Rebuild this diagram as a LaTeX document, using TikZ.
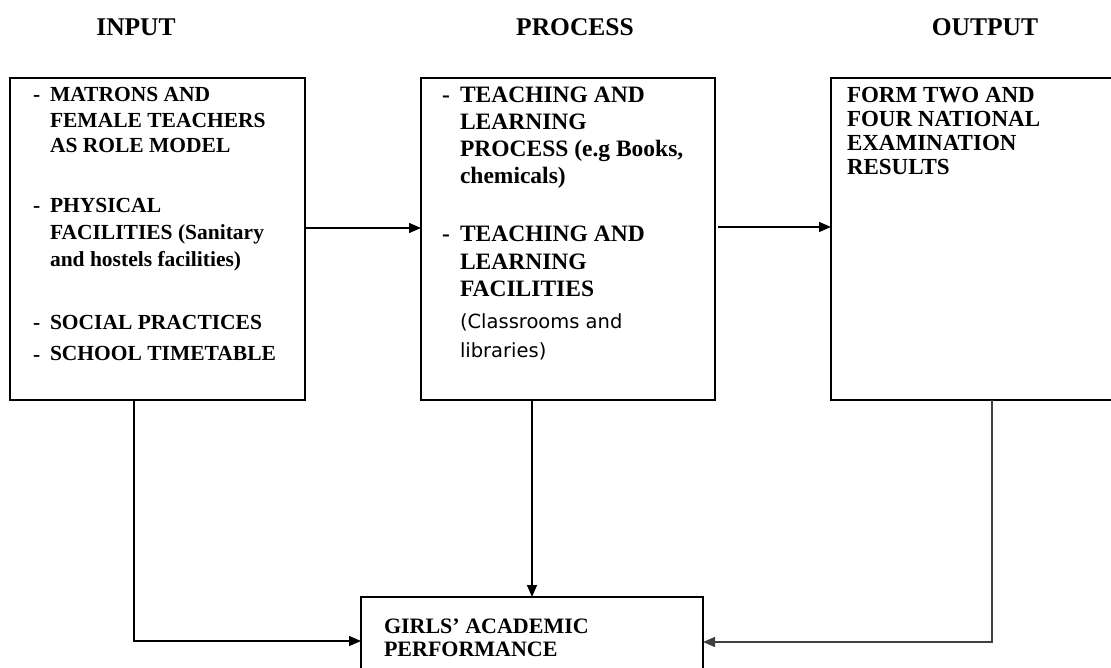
\documentclass[tikz,border=0pt]{standalone}
\usepackage{fontspec}
\setmainfont{Liberation Serif}
\newfontfamily\sansf{DejaVu Sans}
\usetikzlibrary{arrows.meta}
\newcommand{\lns}[1]{\begin{tabular}[t]{@{}l@{}}#1\end{tabular}}
\tikzset{
  box/.style={draw, line width=1.3pt, anchor=north west, inner sep=0pt, outer sep=0pt},
  txt/.style={anchor=base west, inner sep=0pt, outer sep=0pt},
  ttl/.style={anchor=base, inner sep=0pt, font=\bfseries\fontsize{25.5}{28}\selectfont},
  arr/.style={line width=1.4pt, -{Triangle[length=12pt,width=10pt]}},
}
\begin{document}
\begin{tikzpicture}[x=1pt,y=-1pt]
\useasboundingbox (0,0) rectangle (1111,668);
% titles
\node[ttl] (tin) at (136,36) {INPUT};
\node[ttl] (tpr) at (575,36) {PROCESS};
\node[ttl] (tout) at (985,36) {OUTPUT};
% boxes
\node[box, minimum width=295pt, minimum height=322pt] (in) at (10,78) {};
\node[box, minimum width=294pt, minimum height=322pt] (proc) at (421,78) {};
\node[box, minimum width=290pt, minimum height=322pt] (out) at (831,78) {};
\node[box, minimum width=342pt, minimum height=90pt] (bot) at (361,597) {};
% input text
\node[txt, font=\bfseries\fontsize{21.5}{25.5}\selectfont] (d1) at (33,102) {-};
\node[txt, font=\bfseries\fontsize{21.5}{25.5}\selectfont] (i1) at (50,102) {\lns{MATRONS AND\\FEMALE  TEACHERS\\AS ROLE MODEL}};
\node[txt, font=\bfseries\fontsize{21.5}{27}\selectfont] (d2) at (33,213) {-};
\node[txt, font=\bfseries\fontsize{21.5}{27}\selectfont] (i2) at (50,213) {\lns{PHYSICAL\\FACILITIES  (Sanitary\\and hostels facilities)}};
\node[txt, font=\bfseries\fontsize{21.5}{31}\selectfont] (d3) at (33,330) {-};
\node[txt, font=\bfseries\fontsize{21.5}{31}\selectfont] (i3) at (50,330) {\lns{SOCIAL PRACTICES\\SCHOOL TIMETABLE}};
\node[txt, font=\bfseries\fontsize{21.5}{31}\selectfont] (d4) at (33,361) {-};
% process text
\node[txt, font=\bfseries\fontsize{23.5}{27}\selectfont] (d5) at (442,103) {-};
\node[txt, font=\bfseries\fontsize{23.5}{27}\selectfont] (p1) at (460,103) {\lns{TEACHING AND\\LEARNING\\PROCESS (e.g Books,\\chemicals)}};
\node[txt, font=\bfseries\fontsize{23.5}{27.5}\selectfont] (d6) at (442,242) {-};
\node[txt, font=\bfseries\fontsize{23.5}{27.5}\selectfont] (p2) at (460,242) {\lns{TEACHING AND\\LEARNING\\FACILITIES}};
\node[txt, font=\sansf\fontsize{19.5}{29}\selectfont] (p3) at (460,328) {\lns{(Classrooms and\\libraries)}};
% output text
\node[txt, font=\bfseries\fontsize{23}{23.7}\selectfont] (o1) at (847,103) {\lns{FORM TWO AND\\FOUR NATIONAL\\EXAMINATION\\RESULTS}};
% bottom text
\node[txt, font=\bfseries\fontsize{22}{23}\selectfont] (b1) at (384,633) {\lns{GIRLS’ ACADEMIC\\PERFORMANCE}};
% connectors
\draw[arr] ([yshift=-150pt]in.north east) -- ([yshift=-150pt]proc.north west);
\draw[arr] ([xshift=3pt,yshift=-149pt]proc.north east) -- ([yshift=-149pt]out.north west);
\draw[arr] ([xshift=-36pt]proc.south) -- ([xshift=-36pt]proc.south |- bot.north);
\draw[arr] ([xshift=124pt]in.south west) |- ([yshift=-44pt]bot.north west);
\draw[arr, black!75] ([xshift=161pt]out.south west) |- ([yshift=-45pt]bot.north east);
\end{tikzpicture}
\end{document}
